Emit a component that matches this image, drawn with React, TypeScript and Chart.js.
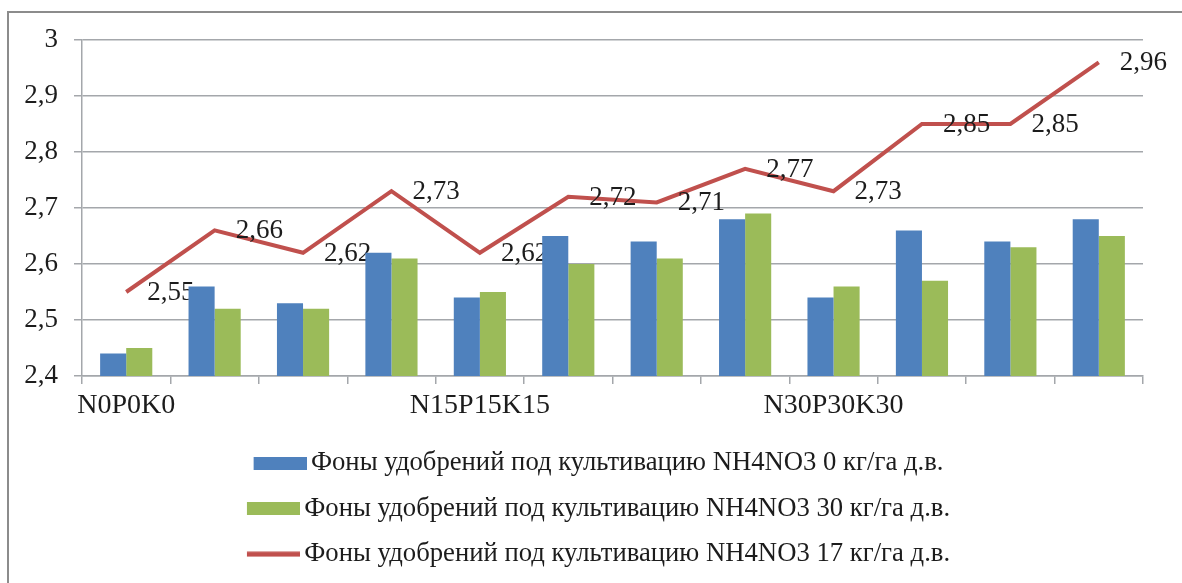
import React, { useEffect, useRef } from 'react';
import { Chart, registerables } from 'chart.js';

Chart.register(...registerables);

// Categories (only every fourth group is labelled on the axis)
const categories = ['N0P0K0', '', '', '', 'N15P15K15', '', '', '', 'N30P30K30', '', '', ''];

// Series values
const seriesN0 = [2.44, 2.56, 2.53, 2.62, 2.54, 2.65, 2.64, 2.68, 2.54, 2.66, 2.64, 2.68];
const seriesN30 = [2.45, 2.52, 2.52, 2.61, 2.55, 2.6, 2.61, 2.69, 2.56, 2.57, 2.63, 2.65];
const seriesN17 = [2.55, 2.66, 2.62, 2.73, 2.62, 2.72, 2.71, 2.77, 2.73, 2.85, 2.85, 2.96];

const seriesNames = [
  'Фоны удобрений под культивацию NH4NO3 0 кг/га д.в.',
  'Фоны удобрений под культивацию NH4NO3 30 кг/га д.в.',
  'Фоны удобрений под культивацию NH4NO3 17 кг/га д.в.',
];

// Y axis range
const yMin = 2.4;
const yMax = 3.0;
const yStep = 0.1;

const FONT = "'Liberation Serif', 'Times New Roman', serif";
const COLORS = ['#4f81bd', '#9bbb59', '#c0504d'];
const GRID = '#a4a7ab';
const TEXT = '#1c1c1c';

const fmtTick = (v: number | string) =>
  String(parseFloat(Number(v).toFixed(1))).replace('.', ',');

// legend swatch images: the visible swatch sits in the right part so that
// the gap to the text is narrow, as in the reference
const SW = 53;
const SHIFT = 18;
function makeSwatch(color: string, isLine: boolean): HTMLCanvasElement {
  const c = document.createElement('canvas');
  c.width = SW + SHIFT;
  c.height = isLine ? 6 : 13;
  const g = c.getContext('2d')!;
  if (isLine) {
    g.strokeStyle = color;
    g.lineWidth = 5;
    g.beginPath();
    g.moveTo(SHIFT, 3);
    g.lineTo(SW + SHIFT, 3);
    g.stroke();
  } else {
    g.fillStyle = color;
    g.fillRect(SHIFT, 0, SW, 13);
  }
  return c;
}

export default function App() {
  const ref = useRef<HTMLCanvasElement>(null);

  useEffect(() => {
    if (!ref.current) return;

    const swatches = COLORS.map((c, i) => makeSwatch(c, i === 2));

    const lineLabels = {
      id: 'lineLabels',
      afterDatasetDraw(chart: any, args: any) {
        if (args.index !== 2) return;
        const ctx = chart.ctx;
        ctx.save();
        ctx.font = `27px ${FONT}`;
        ctx.fillStyle = TEXT;
        ctx.textAlign = 'left';
        ctx.textBaseline = 'middle';
        args.meta.data.forEach((pt: any, i: number) => {
          const v = chart.data.datasets[2].data[i] as number;
          ctx.fillText(v.toFixed(2).replace('.', ','), pt.x + 21, pt.y + 1);
        });
        ctx.restore();
      },
    };

    // centre the legend block the way the reference does
    const legendShift = {
      id: 'legendShift',
      afterLayout(chart: any) {
        const lg = chart.legend;
        if (!lg) return;
        lg.left = 36;
        lg.right = 1134;
      },
    };

    const chart = new Chart(ref.current, {
      type: 'bar',
      data: {
        labels: categories,
        datasets: [
          {
            type: 'bar',
            label: seriesNames[0],
            data: seriesN0,
            backgroundColor: COLORS[0],
            barPercentage: 1,
            categoryPercentage: 0.59,
          },
          {
            type: 'bar',
            label: seriesNames[1],
            data: seriesN30,
            backgroundColor: COLORS[1],
            barPercentage: 1,
            categoryPercentage: 0.59,
          },
          {
            type: 'line',
            label: seriesNames[2],
            data: seriesN17,
            borderColor: COLORS[2],
            backgroundColor: COLORS[2],
            borderWidth: 4,
            pointRadius: 0,
            tension: 0,
            fill: false,
          } as any,
        ],
      },
      options: {
        animation: false,
        responsive: false,
        layout: { padding: { left: 5, right: 39, top: 27, bottom: 5.5 } },
        plugins: {
          tooltip: { enabled: false },
          legend: {
            position: 'bottom',
            labels: {
              usePointStyle: true,
              pointStyleWidth: SW,
              boxHeight: 13,
              padding: 18.8,
              color: TEXT,
              font: { family: FONT, size: 26.7 },
              generateLabels: (c: any) =>
                c.data.datasets.map((ds: any, i: number) => ({
                  text: ds.label,
                  fillStyle: COLORS[i],
                  strokeStyle: COLORS[i],
                  lineWidth: 0,
                  pointStyle: swatches[i],
                  hidden: false,
                  datasetIndex: i,
                  fontColor: TEXT,
                })),
            },
          },
        },
        scales: {
          x: {
            offset: true,
            ticks: {
              autoSkip: false,
              maxRotation: 0,
              minRotation: 0,
              padding: 5,
              color: TEXT,
              font: { family: FONT, size: 28 },
            },
            grid: {
              offset: true,
              drawOnChartArea: false,
              drawTicks: true,
              tickLength: 8,
              color: GRID,
              lineWidth: 1.5,
            },
            border: { color: GRID, width: 1.5 },
            afterFit: (s: any) => {
              s.height = 55;
            },
          },
          y: {
            min: yMin,
            max: yMax,
            ticks: {
              stepSize: yStep,
              padding: 16,
              color: TEXT,
              font: { family: FONT, size: 27, lineHeight: 0.8 },
              callback: (v: any) => fmtTick(v),
            },
            grid: { color: GRID, lineWidth: 1.5, tickLength: 8 },
            border: { color: GRID, width: 1.5 },
            afterFit: (s: any) => {
              s.width = 68;
            },
          },
        },
      },
      plugins: [lineLabels, legendShift],
    });

    return () => chart.destroy();
  }, []);

  return (
    <div
      style={{
        position: 'absolute',
        left: 7,
        top: 11,
        width: 1173,
        height: 570,
        borderTop: '2px solid #8c8c8c',
        borderLeft: '2px solid #8c8c8c',
        background: '#fff',
        overflow: 'hidden',
      }}
    >
      <canvas ref={ref} width={1173} height={570} style={{ display: 'block' }} />
    </div>
  );
}
